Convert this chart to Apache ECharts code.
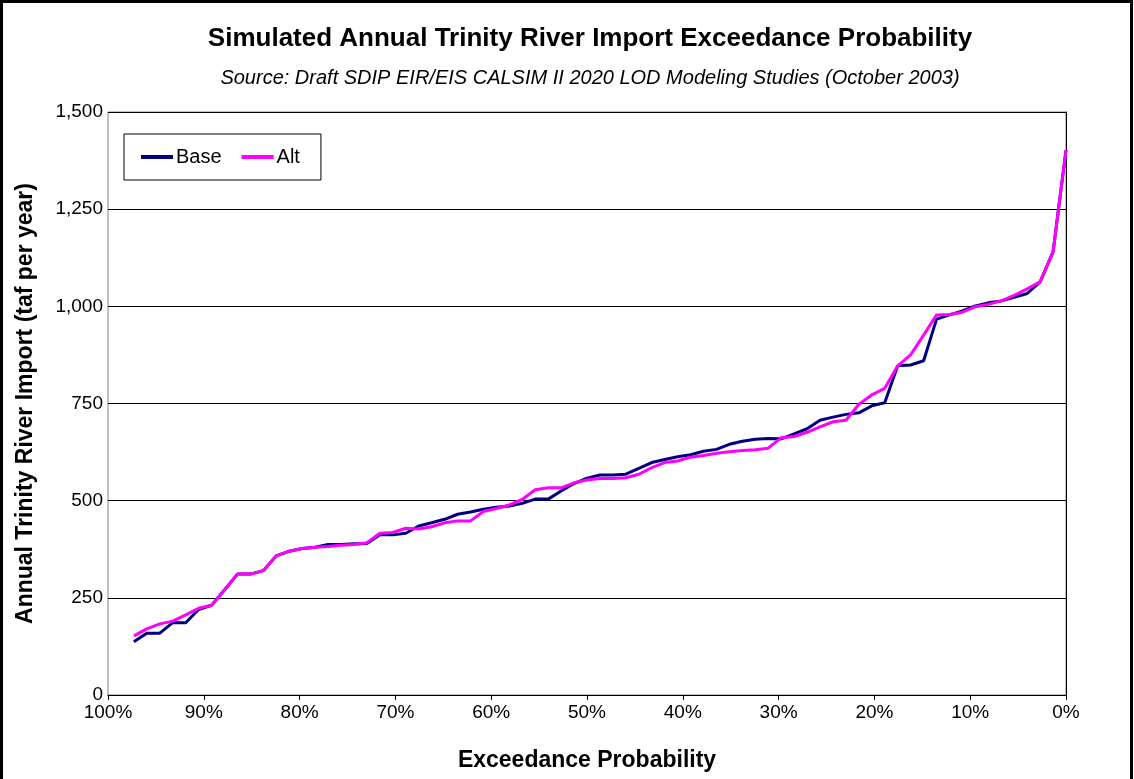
<!DOCTYPE html>
<html>
<head>
<meta charset="utf-8">
<script src="https://cdn.jsdelivr.net/npm/echarts@6/dist/echarts.min.js"></script>
<style>
html,body{margin:0;padding:0;background:#fff;}
#chart{width:1134px;height:779px;}
</style>
</head>
<body>
<div id="chart"></div>
<script>
// Exceedance probability (%) of each ranked year
const exceedance = [97.30,95.95,94.59,93.24,91.89,90.54,89.19,87.84,86.49,85.14,83.78,82.43,81.08,79.73,78.38,77.03,75.68,74.32,72.97,71.62,70.27,68.92,67.57,66.22,64.86,63.51,62.16,60.81,59.46,58.11,56.76,55.41,54.05,52.70,51.35,50.00,48.65,47.30,45.95,44.59,43.24,41.89,40.54,39.19,37.84,36.49,35.14,33.78,32.43,31.08,29.73,28.38,27.03,25.68,24.32,22.97,21.62,20.27,18.92,17.57,16.22,14.86,13.51,12.16,10.81,9.46,8.11,6.76,5.41,4.05,2.70,1.35,0.00];
// Annual Trinity River import (taf per year)
const baseValues = [137,159,159,186,186,220,231,270,311,311,320,358,370,377,380,387,387,389,390,412,412,416,435,443,452,465,471,478,483,486,493,504,504,525,544,558,566,566,568,583,598,606,613,618,627,632,645,653,658,660,659,672,685,707,715,722,726,744,752,847,849,860,967,978,988,1001,1009,1014,1023,1033,1063,1140,1402];
const altValues = [152,170,183,190,206,223,231,270,311,311,320,358,370,377,380,382,385,387,392,416,418,429,427,433,443,448,448,472,480,489,503,528,533,533,546,553,557,557,559,568,585,598,602,612,616,622,626,629,631,635,662,665,676,690,703,707,748,772,789,847,875,926,978,979,985,999,1005,1014,1028,1045,1063,1140,1402];
const seriesNames = ['Base','Alt'];
const titleText = 'Simulated Annual Trinity River Import Exceedance Probability';
const subtitleText = 'Source: Draft SDIP EIR/EIS CALSIM II 2020 LOD Modeling Studies (October 2003)';
const xAxisTitle = 'Exceedance Probability';
const yAxisTitle = 'Annual Trinity River Import (taf per year)';

const FONT = '"Liberation Sans", Arial, sans-serif';
function pairs(xs, ys){ return xs.map((x,i)=>[x, ys[i]]); }
function commas(v){ return String(v).replace(/\B(?=(\d{3})+(?!\d))/g, ','); }

const chart = echarts.init(document.getElementById('chart'), null, {renderer:'canvas'});
chart.setOption({
  animation:false,
  backgroundColor:'#ffffff',
  title:[
    {text:titleText, left:585, top:21, textAlign:'center',
     textStyle:{fontFamily:FONT, fontSize:26, fontWeight:'bold', color:'#000'}},
    {text:subtitleText, left:585, top:63, textAlign:'center',
     textStyle:{fontFamily:FONT, fontSize:20, fontStyle:'italic', fontWeight:'normal', color:'#000'}}
  ],
  graphic:[
    {type:'rect', shape:{x:1.5, y:1.5, width:1130, height:820},
     style:{fill:'none', stroke:'#000', lineWidth:3}, silent:true}
  ],
  legend:{
    left:124, top:134, orient:'horizontal',
    backgroundColor:'#fff', borderColor:'#000', borderWidth:1,
    padding:[13,21,13,17], itemGap:20, itemWidth:32, itemHeight:4,
    textStyle:{fontFamily:FONT, fontSize:20, color:'#000', padding:[0,0,0,-2]},
    data:[{name:seriesNames[0], icon:'rect'},{name:seriesNames[1], icon:'rect'}]
  },
  grid:{left:108, right:68, top:112, bottom:84, show:true, borderColor:'#808080', borderWidth:1, backgroundColor:'#fff'},
  xAxis:{
    type:'value', inverse:true, min:0, max:100, interval:10,
    name:xAxisTitle, nameLocation:'middle', nameGap:54,
    nameTextStyle:{fontFamily:FONT, fontSize:23, fontWeight:'bold', color:'#000'},
    axisLine:{show:true, lineStyle:{color:'#000', width:1}},
    axisTick:{show:true, length:5, inside:false, lineStyle:{color:'#000'}},
    axisLabel:{fontFamily:FONT, fontSize:19, color:'#000', margin:8, formatter:v=>v+'%'},
    splitLine:{show:false}
  },
  yAxis:{
    type:'value', min:0, max:1500, interval:250,
    name:yAxisTitle, nameLocation:'middle', nameGap:71, nameRotate:90,
    nameTextStyle:{fontFamily:FONT, fontSize:23, fontWeight:'bold', color:'#000'},
    axisLine:{show:true, lineStyle:{color:'#000', width:1}},
    axisTick:{show:true, length:5, lineStyle:{color:'#000'}},
    axisLabel:{fontFamily:FONT, fontSize:19, color:'#000', margin:5, formatter:v=>commas(v)},
    splitLine:{show:true, lineStyle:{color:'#000', width:1}}
  },
  series:[
    {name:seriesNames[0], type:'line', data:pairs(exceedance, baseValues), showSymbol:false, symbol:'none',
     lineStyle:{color:'#000080', width:3}, itemStyle:{color:'#000080'}, z:2},
    {name:seriesNames[1], type:'line', data:pairs(exceedance, altValues), showSymbol:false, symbol:'none',
     lineStyle:{color:'#FF00FF', width:3}, itemStyle:{color:'#FF00FF'}, z:3}
  ]
});
</script>
</body>
</html>
